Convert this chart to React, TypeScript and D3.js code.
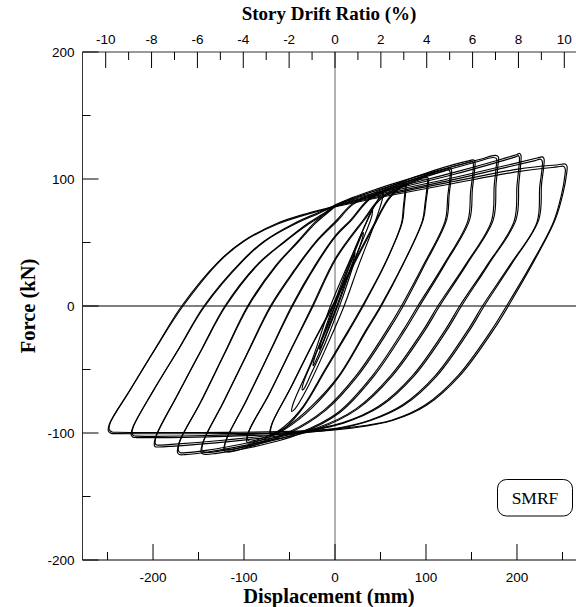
import React from 'react';
import * as d3 from 'd3';

// ---- data (displacement mm, force kN) ----
const loopS: [number, number][] = [[-17,-34],[-16,-30],[-7,-14],[0,0],[10,20],[19,37],[22,42],[21,38],[12,20],[3,2],[-6,-15],[-13,-28],[-16.5,-33.5]];
const loop0: [number, number][] = [[-24,-47],[-22.5,-41],[-11,-20],[0,1],[15,30],[27,52],[31,58],[30,53],[18,30],[4,2],[-8,-20],[-18,-38],[-23,-46]];
const loop1: [number, number][] = [[-36,-66],[-34.5,-60],[-18,-32],[-2,0],[18,38],[35,67],[41,76],[40.5,71],[25,42],[7,4],[-10,-28],[-26,-53],[-34,-65]];
const loop2: [number, number][] = [[-47.6,-83],[-46,-77],[-25,-42],[-5,0],[20,42],[40,74],[50,87],[53,89.5],[52,84],[42,62],[26,32],[10,0],[-8,-30],[-30,-64],[-44,-81]];
const loop3: [number, number][] = [[-71.4,-101],[-70,-94],[-50,-66],[-27,-33],[-3,0],[20,33],[44,66],[58,84],[70,93],[76,96.4],[78,95.5],[77.6,89],[76,78],[74,66],[55,33],[31,0],[15,-20],[-10,-50],[-35,-80],[-55,-96],[-68,-101.5]];
const loop3b: [number, number][] = [[-70.5,-99.5],[-69,-92.5],[-49,-65],[-26,-32],[-2,0],[21,33],[45,66],[58,83],[70,92],[75.5,95],[77,94],[76.6,88],[75,77],[73,65],[54,32],[30,0],[14,-20],[-11,-50],[-35,-79],[-55,-94.5],[-67,-100]];
const loop4: [number, number][] = [[-97,-107],[-95.5,-100],[-73,-70],[-49,-35],[-25,0],[0,37],[31,67.7],[50,85],[75,95],[98,101.3],[102.6,100.5],[102.2,94],[100,82],[97,68],[75,33],[51,0],[35,-19],[5,-55],[-25,-80],[-55,-97],[-85,-106.5],[-94,-108]];
const loop4b: [number, number][] = [[-96,-105.5],[-94.5,-98.5],[-72,-69],[-48,-34],[-24,0],[1,37],[32,67.5],[50,84],[75,94],[97,100],[101.5,99.3],[101,93],[99,81],[96,67],[74,32],[50,0],[34,-19],[4,-55],[-26,-79],[-55,-96],[-84,-105],[-93,-106.5]];
const loop5: [number, number][] = [[-122,-114],[-120.5,-107],[-98,-75],[-73,-38],[-47.6,0],[-22,32],[0,55],[17,67.7],[40,86],[80,98],[120,107.5],[126.5,108.4],[128,107],[127.5,100],[125.5,88],[122.7,68],[99,33],[75,0],[59,-19],[25,-55],[-10,-82],[-50,-100],[-100,-112],[-118,-115]];
const loop5b: [number, number][] = [[-121,-112.5],[-119.5,-105.5],[-97,-74],[-72,-37],[-46.6,0],[-21,32],[1,55],[18,67.5],[40,85],[80,96.8],[119,106],[125,107],[126.5,105.6],[126,98.5],[124,87],[121,67],[97,32],[73,0],[57,-19],[23,-55],[-12,-82],[-50,-99],[-99,-110.5],[-117,-113.5]];
const loop6: [number, number][] = [[-147,-115.5],[-145.5,-108],[-123,-76],[-97,-38],[-71,0],[-45,28],[-22,50],[2,67.7],[20,81],[60,94],[110,107],[148,114.5],[152.5,115],[153.8,113.5],[153.3,106],[151,92],[148,68],[121,33],[93,0],[77,-19],[43,-55],[5,-84],[-40,-101],[-90,-111],[-130,-116],[-143,-116.8]];
const loop6b: [number, number][] = [[-146,-114],[-144.5,-106.5],[-122,-75],[-96,-37],[-70,0],[-44,28],[-21,50],[3,67.2],[20,80],[60,92.5],[110,105.5],[146.5,113],[150.8,113.5],[152,112],[151.5,104.5],[149,90],[146,67],[119,32],[91,0],[75,-19],[41,-55],[3,-84],[-40,-100],[-90,-109.5],[-129,-114.5],[-142,-115.3]];
const loop7: [number, number][] = [[-173,-115.5],[-171.5,-108],[-148,-76],[-122,-38],[-96,0],[-65,32],[-42,50],[-22,66],[-8,74.5],[5,81],[50,93],[110,106],[160,115.5],[176,118.6],[179.5,117.5],[179,110],[177,96],[174,68],[145,33],[115,0],[99,-19],[63,-55],[25,-81],[-20,-97],[-80,-107],[-140,-115],[-165,-117],[-171,-117]];
const loop7b: [number, number][] = [[-172,-114],[-170.5,-106.5],[-147,-75],[-121,-37],[-95,0],[-64,32],[-41,50],[-21,65.5],[-7,74],[5,80.5],[50,92],[110,104.5],[158,114],[174,116.9],[177.5,116],[177,108.5],[175,95],[172,67],[143,32],[113,0],[97,-19],[61,-55],[23,-81],[-20,-96],[-80,-105.5],[-140,-113.5],[-164,-115.5],[-170,-115.5]];
const loop8: [number, number][] = [[-198.6,-109.5],[-197,-103],[-174,-71],[-148,-36],[-121,0],[-85,33],[-57,50],[-30,65],[-10,74],[0,79.5],[60,92],[130,105],[180,115],[200,119.3],[203,120.1],[204.4,118.5],[204,111],[202,96],[199,68],[169,33],[139,0],[123,-19],[87,-55],[50,-79],[10,-92],[-50,-101],[-120,-107],[-180,-110.5],[-194,-111],[-197.5,-110.8]];
const loop8b: [number, number][] = [[-197.6,-108],[-196,-101.5],[-173,-70],[-147,-35],[-120,0],[-84,33],[-56,50],[-29,64.5],[-9,73.5],[0,79],[60,91],[130,103.5],[180,113.5],[199,117.6],[201.5,118.4],[202.6,117],[202.2,110],[200,95],[197,67],[167,32],[137,0],[121,-19],[85,-55],[48,-79],[8,-92],[-50,-100],[-120,-105.5],[-180,-109],[-193,-109.5],[-196.5,-109.3]];
const loop9: [number, number][] = [[-224,-101.5],[-222.5,-96],[-200,-67],[-172,-34],[-144,0],[-103,35],[-78,51],[-45,65],[-20,73],[0,79],[60,90],[130,101],[190,111],[222,116.5],[228,117.4],[229.7,116],[229.3,109],[227,96],[224,68],[194,33],[164,0],[148,-19],[112,-55],[76,-78],[40,-90],[0,-97],[-60,-101],[-140,-103],[-200,-103.6],[-218,-103.6],[-222,-103.3]];
const loop9b: [number, number][] = [[-223,-100.5],[-221.5,-95],[-199,-66],[-171,-33],[-143,0],[-102,35],[-77,51],[-44,64.5],[-19,72.5],[0,78.5],[60,89],[130,99.5],[190,109.5],[220,114.5],[226,115.6],[227.8,114],[227.4,107],[225,94],[222,66],[192,32],[162,0],[146,-19],[110,-55],[74,-78],[38,-90],[0,-96.5],[-60,-100],[-140,-102],[-199,-102.6],[-217,-102.5],[-221,-102.2]];
const loop10: [number, number][] = [[-249,-98.5],[-248,-93],[-226,-67],[-197,-33],[-168.5,0],[-128,35],[-101,51],[-64,65],[-30,73],[0,78.5],[60,88],[130,98],[203,108],[245,111.2],[253,111.8],[255,110],[254.5,104],[251,90],[242,68],[217,33],[190.5,0],[174,-19],[137,-55],[101,-78],[64,-90],[20,-96],[-40,-99.5],[-120,-100.5],[-200,-100.6],[-240,-100.5],[-246,-100.3]];
const loop10b: [number, number][] = [[-248,-97.5],[-247,-92],[-225,-66],[-196,-32],[-167,0],[-127,35],[-100,51],[-63,64.5],[-29,72.5],[0,78],[60,87],[130,96.5],[203,106],[244,109.5],[251,110],[253,108],[252.5,102],[249,88],[240,66],[215,32],[188.5,0],[172,-19],[135,-55],[99,-78],[62,-90],[18,-95.5],[-40,-98.5],[-120,-99.5],[-200,-99.6],[-239,-99.4],[-245,-99.2]];

const loops = [loopS, loop0, loop1, loop2, loop3, loop3b, loop4, loop4b, loop5, loop5b, loop6, loop6b, loop7, loop7b, loop8, loop8b, loop9, loop9b, loop10, loop10b];

const dispTicks = [-200, -100, 0, 100, 200];
const dispMinor = [-250, -150, -50, 50, 150, 250];
const forceTicks = [-200, -100, 0, 100, 200];
const forceMinor = [-150, -50, 50, 150];
const driftTicks = [-10, -8, -6, -4, -2, 0, 2, 4, 6, 8, 10];
const driftMinor = [-9, -7, -5, -3, -1, 1, 3, 5, 7, 9];
const storyHeight = 25.2; // mm per 1 % drift

const W = 576, H = 607;
const L = 82.5, T = 52, B = 560;

export default function App() {
  const x = d3.scaleLinear().domain([-277.5, 277.5]).range([L, 587.5]);
  const xd = d3.scaleLinear().domain([-277.5 / storyHeight, 277.5 / storyHeight]).range([L, 587.5]);
  const y = d3.scaleLinear().domain([-200, 200]).range([B, T]);
  const line = d3.line<[number, number]>()
    .x(d => x(d[0]))
    .y(d => y(d[1]))
    .curve(d3.curveCatmullRomClosed.alpha(0.5));

  const sans = 'Liberation Sans, Arial, sans-serif';
  const serif = 'Liberation Serif, Times New Roman, serif';
  const axisCol = '#333';

  return (
    <svg width={W} height={H} style={{ position: 'absolute', left: 0, top: 0, background: '#fff' }}>
      <defs>
        <clipPath id="plot">
          <rect x={L} y={T} width={W - L} height={B - T} />
        </clipPath>
      </defs>
      <rect x={0} y={0} width={W} height={H} fill="#fff" />
      {/* zero lines */}
      <line x1={x(0)} x2={x(0)} y1={T} y2={B} stroke="#666" strokeWidth={1} />
      <line x1={L} x2={W} y1={y(0)} y2={y(0)} stroke="#000" strokeWidth={1} />
      {/* loops */}
      <g clipPath="url(#plot)">
        {loops.map((lp, i) => (
          <path key={i} d={line(lp) || ''} fill="none" stroke="#000" strokeWidth={1.15} strokeLinejoin="round" />
        ))}
      </g>
      {/* frame */}
      <line x1={L} x2={L} y1={T} y2={B} stroke={axisCol} />
      <line x1={L} x2={W} y1={T} y2={T} stroke={axisCol} />
      <line x1={L} x2={W} y1={B} y2={B} stroke="#000" />
      {/* top drift ticks */}
      {driftTicks.map(t => (
        <g key={'dt' + t}>
          <line x1={xd(t)} x2={xd(t)} y1={T} y2={T + 16} stroke="#000" />
          <text x={xd(t)} y={43.5} textAnchor="middle" fontFamily={sans} fontSize={13.5}>{t}</text>
        </g>
      ))}
      {driftMinor.map(t => (
        <line key={'dm' + t} x1={xd(t)} x2={xd(t)} y1={T} y2={T + 8} stroke="#000" />
      ))}
      {/* bottom displacement ticks */}
      {dispTicks.map(t => (
        <g key={'xt' + t}>
          <line x1={x(t)} x2={x(t)} y1={B} y2={B - 16} stroke="#000" />
          <text x={x(t)} y={582} textAnchor="middle" fontFamily={sans} fontSize={13.5}>{t}</text>
        </g>
      ))}
      {dispMinor.map(t => (
        <line key={'xm' + t} x1={x(t)} x2={x(t)} y1={B} y2={B - 8} stroke="#000" />
      ))}
      {/* left force ticks */}
      {forceTicks.map(t => (
        <g key={'yt' + t}>
          <line x1={L} x2={L + 16} y1={y(t)} y2={y(t)} stroke="#000" />
          <text x={74.5} y={y(t) + 4.8} textAnchor="end" fontFamily={sans} fontSize={13.5}>{t}</text>
        </g>
      ))}
      {forceMinor.map(t => (
        <line key={'ym' + t} x1={L} x2={L + 8} y1={y(t)} y2={y(t)} stroke="#000" />
      ))}
      {/* titles */}
      <text x={329} y={20} textAnchor="middle" fontFamily={serif} fontWeight="bold" fontSize={19}>Story Drift Ratio (%)</text>
      <text x={329} y={602.5} textAnchor="middle" fontFamily={serif} fontWeight="bold" fontSize={20.5}>Displacement (mm)</text>
      <text transform="translate(35,306) rotate(-90)" textAnchor="middle" fontFamily={serif} fontWeight="bold" fontSize={20.5}>Force (kN)</text>
      {/* label box */}
      <rect x={497.5} y={479.5} width={75} height={36.5} rx={9} ry={9} fill="#fff" stroke="#000" />
      <text x={535} y={504} textAnchor="middle" fontFamily={serif} fontSize={17.5}>SMRF</text>
    </svg>
  );
}
